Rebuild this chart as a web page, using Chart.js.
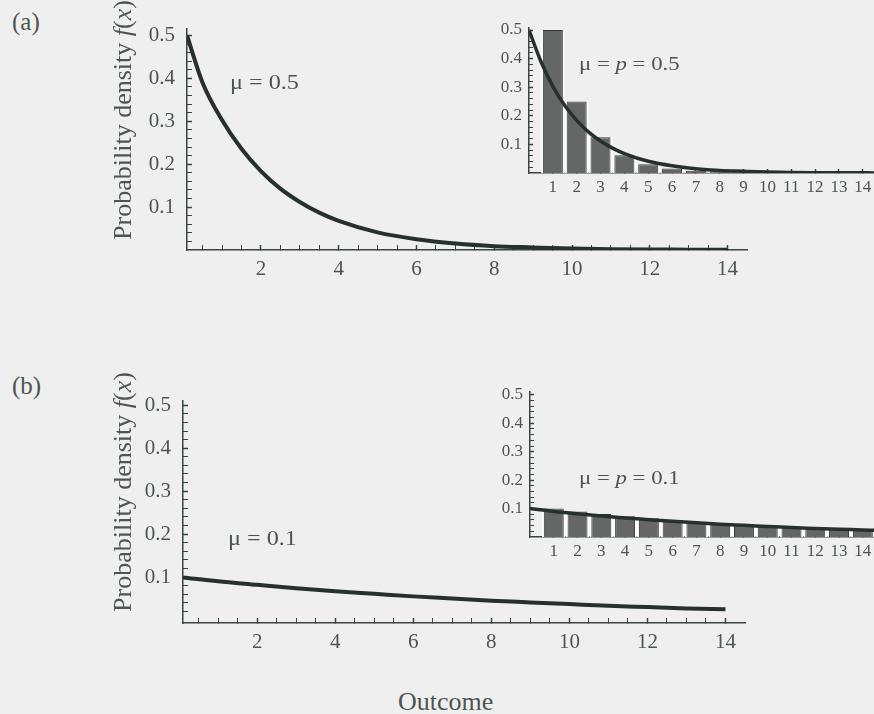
<!DOCTYPE html>
<html lang="en">
<head>
<meta charset="UTF-8">
<title>Exponential and geometric distributions</title>
<style>
  body { margin: 0; background: #efefef; font-family: "Liberation Serif", serif; color: #4d5551; }
  #page { position: relative; width: 874px; height: 714px; overflow: hidden; }
  canvas { position: absolute; }
  .lbl { position: absolute; white-space: nowrap; line-height: 1; transform-origin: 0 50%; }
  .ytitle { position: absolute; font-size: 26px; line-height: 1; white-space: nowrap;
            transform: translate(-50%, -50%) rotate(-90deg); }
</style>
</head>
<body>
<div id="page">
  <canvas id="mainA" width="660" height="280" style="left:100px;top:10px"></canvas>
  <canvas id="insetA" width="394" height="188" style="left:480px;top:15px"></canvas>
  <canvas id="mainB" width="660" height="278" style="left:96px;top:385px"></canvas>
  <canvas id="insetB" width="393" height="187" style="left:481px;top:380px"></canvas>

  <div class="lbl" style="left:12px;top:9px;font-size:25px">(a)</div>
  <div class="lbl" style="left:12px;top:373px;font-size:25px">(b)</div>
  <div class="ytitle" style="left:123px;top:120px">Probability density <i>f</i>(<i>x</i>)</div>
  <div class="ytitle" style="left:123px;top:492px">Probability density <i>f</i>(<i>x</i>)</div>
  <div class="lbl" style="left:230px;top:72px;font-size:21px;transform:scaleX(1.15)">μ = 0.5</div>
  <div class="lbl" style="left:228px;top:528px;font-size:21px;transform:scaleX(1.15)">μ = 0.1</div>
  <div class="lbl" style="left:579px;top:54px;font-size:19px;transform:scaleX(1.2)">μ = <i>p</i> = 0.5</div>
  <div class="lbl" style="left:579px;top:468px;font-size:19px;transform:scaleX(1.2)">μ = <i>p</i> = 0.1</div>
  <div class="lbl" style="left:398px;top:689px;font-size:26px">Outcome</div>
</div>

<script src="https://cdn.jsdelivr.net/npm/chart.js"></script>
<script>
// continuous density curves (main plots)
const curveXA = [0.1, 0.5, 1, 1.5, 2, 2.5, 3, 3.5, 4, 5, 6, 7, 8, 9, 10, 11, 12, 13, 14];
const curveYA = [0.5, 0.39, 0.303, 0.236, 0.184, 0.143, 0.112, 0.087, 0.068, 0.041, 0.025, 0.015, 0.009, 0.006, 0.0034, 0.002, 0.0012, 0.0008, 0.0005];
const curveXB = [0.1, 1, 2, 3, 4, 5, 6, 7, 8, 9, 10, 11, 12, 13, 14];
const curveYB = [0.099, 0.09, 0.082, 0.074, 0.067, 0.061, 0.055, 0.05, 0.045, 0.041, 0.037, 0.033, 0.03, 0.027, 0.025];

// curves drawn over the insets
const insetXA = [0, 0.5, 1, 1.5, 2, 2.5, 3, 3.5, 4, 5, 6, 7, 8, 9, 10, 11, 12, 13, 14, 14.5];
const insetYA = [0.5, 0.39, 0.303, 0.236, 0.184, 0.143, 0.112, 0.087, 0.068, 0.041, 0.025, 0.015, 0.009, 0.006, 0.0034, 0.002, 0.0012, 0.0008, 0.0005, 0.0004];
const insetXB = [0, 1, 2, 3, 4, 5, 6, 7, 8, 9, 10, 11, 12, 13, 14, 14.5];
const insetYB = [0.1, 0.09, 0.082, 0.074, 0.067, 0.061, 0.055, 0.05, 0.045, 0.041, 0.037, 0.033, 0.03, 0.027, 0.025, 0.0235];

// geometric bars
const outcomes = [1, 2, 3, 4, 5, 6, 7, 8, 9, 10, 11, 12, 13, 14];
const barsA = [0.5, 0.25, 0.125, 0.0625, 0.031, 0.016, 0.008, 0.004, 0.002, 0.001, 0.0005, 0.0002, 0.0001, 0.0001];
const barsB = [0.1, 0.09, 0.081, 0.073, 0.066, 0.059, 0.053, 0.048, 0.043, 0.039, 0.035, 0.031, 0.028, 0.025];

// tick labels
const mainXLabels = [2, 4, 6, 8, 10, 12, 14];
const yLabels = [0.1, 0.2, 0.3, 0.4, 0.5];

const lineColor = '#27312c';
const axisColor = '#3a4540';
const textColor = '#4d5551';
const serif = 'Liberation Serif';

Chart.defaults.font.family = serif;
Chart.defaults.color = textColor;

const near = (a, b) => Math.abs(a - b) < 1e-6;
const pts = (xs, ys) => xs.map((x, i) => ({ x: x, y: ys[i] }));
const tickVal = c => (c.tick ? c.tick.value : NaN);

function steps(from, to, step) {
  const out = [];
  for (let v = from; v <= to + 1e-9; v += step) out.push(Math.round(v * 1000) / 1000);
  return out;
}

// drop the label-overflow padding so the layout padding alone places the plot area
function noPad(s) {
  s.paddingTop = 0; s.paddingBottom = 0; s.paddingLeft = 0; s.paddingRight = 0;
}

function yAxis(min, max, size, pad, len, width) {
  return {
    type: 'linear', min: min, max: max,
    afterBuildTicks: s => { s.ticks = steps(0.02, 0.5, 0.02).map(v => ({ value: v })); },
    afterFit: s => { s.width = width; noPad(s); },
    border: { color: axisColor, width: 1.5 },
    grid: { drawOnChartArea: false, offset: false, tickLength: -len, tickColor: axisColor,
            tickWidth: c => yLabels.some(l => near(l, tickVal(c))) ? 1.5 : 1 },
    ticks: { autoSkip: false, padding: pad, font: { size: size }, color: textColor,
             callback: v => yLabels.some(l => near(l, v)) ? v.toFixed(1) : '' }
  };
}

function xAxis(min, max, tickVals, labels, size, pad, len, height) {
  return {
    type: 'linear', min: min, max: max, offset: false,
    afterBuildTicks: s => { s.ticks = tickVals.map(v => ({ value: v })); },
    afterFit: s => { s.height = height; noPad(s); },
    border: { color: axisColor, width: 1.5 },
    grid: { drawOnChartArea: false, offset: false, tickLength: -len, tickColor: axisColor,
            tickWidth: c => labels.includes(tickVal(c)) ? 1.5 : 1 },
    ticks: { autoSkip: false, maxRotation: 0, padding: pad, font: { size: size }, color: textColor,
             callback: v => labels.includes(v) ? String(v) : '' }
  };
}

const baseOpts = {
  responsive: false, animation: false, devicePixelRatio: 1,
  plugins: { legend: { display: false }, tooltip: { enabled: false } }
};

function mainChart(id, xs, ys, ymin, ymax, padTop, padRight) {
  new Chart(document.getElementById(id), {
    type: 'line',
    data: { datasets: [{ data: pts(xs, ys), borderColor: lineColor, borderWidth: 4,
                         pointRadius: 0, cubicInterpolationMode: 'monotone' }] },
    options: Object.assign({}, baseOpts, {
      layout: { padding: { top: padTop, right: padRight, left: 0, bottom: 0 } },
      scales: {
        x: xAxis(0.1, 14.5, steps(0.5, 14, 0.5), mainXLabels, 21, 12, 5, 40),
        y: yAxis(ymin, ymax, 21, 17, 5, 87)
      }
    })
  });
}

function insetChart(id, cx, cy, bars, ymax, padTop) {
  const barPts = pts(outcomes, bars);
  new Chart(document.getElementById(id), {
    type: 'bar',
    data: { datasets: [
      { type: 'line', data: pts(cx, cy), borderColor: lineColor, borderWidth: 3.5,
        pointRadius: 0, cubicInterpolationMode: 'monotone', order: 0 },
      { data: barPts, backgroundColor: '#646765', borderColor: '#333836', borderWidth: 1,
        barPercentage: 0.84, categoryPercentage: 1, grouped: false, order: 1 },
      { data: barPts, backgroundColor: '#ffffff', borderWidth: 0,
        barPercentage: 0.98, categoryPercentage: 1, grouped: false, order: 2 }
    ] },
    options: Object.assign({}, baseOpts, {
      layout: { padding: { top: padTop, right: 0, left: 0, bottom: 0 } },
      scales: {
        x: xAxis(0, 14.47, outcomes, outcomes, 17, 8, 4, 30),
        y: yAxis(0, ymax, 17, 11, 4, 49)
      }
    })
  });
}

mainChart('mainA', curveXA, curveYA, 0, 0.515, 19, 13);
mainChart('mainB', curveXB, curveYB, -0.007, 0.51, 16, 11);
insetChart('insetA', insetXA, insetYA, barsA, 0.507, 13);
insetChart('insetB', insetXB, insetYB, barsB, 0.51, 12);
</script>
</body>
</html>
